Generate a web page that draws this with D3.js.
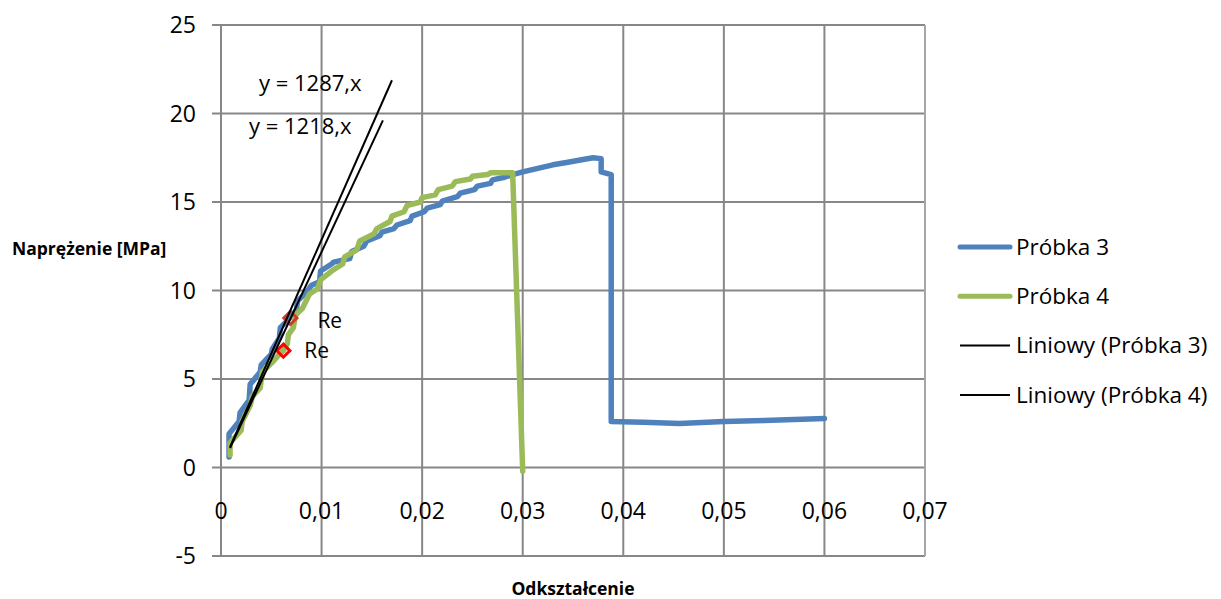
<!DOCTYPE html>
<html>
<head>
<meta charset="utf-8">
<script src="https://cdn.jsdelivr.net/npm/d3@7"></script>
<style>
  html, body { margin: 0; padding: 0; background: #fff; }
  svg { display: block; }
</style>
</head>
<body>
<div id="chart"></div>
<script>
// tick values
const xTicks = [0, 0.01, 0.02, 0.03, 0.04, 0.05, 0.06, 0.07]
const yTicks = [-5, 0, 5, 10, 15, 20, 25]

// Próbka 3: [odkształcenie, naprężenie]
const probka3 = [
  [0.0008, 0.6], [0.0008, 1.9], [0.0018, 2.6], [0.0019, 3.1], [0.0028, 3.8],
  [0.0029, 4.7], [0.0039, 5.4], [0.0040, 5.8], [0.0050, 6.4], [0.0051, 6.7],
  [0.0058, 7.3], [0.0059, 7.9], [0.0066, 8.3], [0.0075, 8.9], [0.0076, 9.4],
  [0.0085, 9.9], [0.0090, 10.3], [0.0098, 10.5], [0.0099, 11.1], [0.0110, 11.5],
  [0.0112, 11.6], [0.0128, 11.8], [0.0130, 12.2], [0.0142, 12.5], [0.0145, 12.8],
  [0.0158, 13.1], [0.0160, 13.3], [0.0172, 13.5], [0.0175, 13.7], [0.0188, 13.95],
  [0.0190, 14.2], [0.0202, 14.45], [0.0205, 14.65], [0.0218, 14.85], [0.0220, 15.05],
  [0.0235, 15.3], [0.0238, 15.5], [0.0252, 15.7], [0.0255, 15.9], [0.0268, 16.05],
  [0.0270, 16.25], [0.0282, 16.4], [0.0290, 16.55], [0.0300, 16.7], [0.0315, 16.9],
  [0.0330, 17.1], [0.0345, 17.25], [0.0360, 17.4], [0.0370, 17.5], [0.0378, 17.45],
  [0.0378, 16.7], [0.0388, 16.55], [0.0388, 2.6], [0.0420, 2.55], [0.0456, 2.49],
  [0.0500, 2.6], [0.0540, 2.65], [0.0600, 2.77]
]

// Próbka 4
const probka4 = [
  [0.0009, 0.7], [0.0009, 1.4], [0.0020, 2.1], [0.0021, 2.6], [0.0029, 3.5],
  [0.0031, 4.0], [0.0039, 4.5], [0.0041, 5.4], [0.0052, 6.0], [0.0058, 6.4],
  [0.0062, 6.6], [0.0066, 7.0], [0.0067, 7.5], [0.0072, 7.9], [0.0074, 8.6],
  [0.0081, 9.0], [0.0088, 9.8], [0.0096, 10.1], [0.0099, 10.6], [0.0110, 11.1],
  [0.0121, 11.5], [0.0123, 11.9], [0.0135, 12.3], [0.0138, 12.8], [0.0152, 13.2],
  [0.0155, 13.5], [0.0168, 13.9], [0.0170, 14.2], [0.0182, 14.45], [0.0185, 14.8],
  [0.0198, 15.0], [0.0200, 15.25], [0.0213, 15.4], [0.0216, 15.7], [0.0230, 15.9],
  [0.0233, 16.15], [0.0248, 16.3], [0.0250, 16.45], [0.0265, 16.55], [0.0268, 16.65],
  [0.0290, 16.65], [0.0300, -0.2]
]

// linear trendlines y = a*x
const trendNames = ['Liniowy (Próbka 3)', 'Liniowy (Próbka 4)']
const trendSlopes = [1287, 1218]
const trendLabels = ['y = 1287,x', 'y = 1218,x']
const trendStart = [0.0009, 0.0009]
const trendEnd = [0.0170, 0.0161]

// Re points
const reX = [0.0069, 0.0062]
const reY = [8.45, 6.6]
const reColors = ['#d03a2c', '#ff0000']

const seriesNames = ['Próbka 3', 'Próbka 4']
const seriesColors = ['#4f81bd', '#9bbb59']

const width = 1221
const height = 599
const plot = { left: 221, right: 925, top: 25, bottom: 556 }
const font = '"Open Sans", "Noto Sans", sans-serif'
const gridColor = '#878787'

const svg = d3.select('#chart')
  .append('svg')
  .attr('width', width)
  .attr('height', height)
  .style('font-family', font)

const x = d3.scaleLinear().domain([0, 0.07]).range([plot.left, plot.right])
const y = d3.scaleLinear().domain([-5, 25]).range([plot.bottom, plot.top])

// grid
svg.append('g')
  .selectAll('line')
  .data(yTicks)
  .join('line')
  .attr('x1', plot.left - 9)
  .attr('x2', plot.right)
  .attr('y1', (d) => y(d))
  .attr('y2', (d) => y(d))
  .attr('stroke', gridColor)
  .attr('stroke-width', 2)

svg.append('g')
  .selectAll('line')
  .data(xTicks)
  .join('line')
  .attr('x1', (d) => x(d))
  .attr('x2', (d) => x(d))
  .attr('y1', plot.top)
  .attr('y2', plot.bottom)
  .attr('stroke', (d) => (d === 0.07 ? '#a6a6a6' : gridColor))
  .attr('stroke-width', 2)

// tick labels
svg.append('g')
  .selectAll('text')
  .data(yTicks)
  .join('text')
  .attr('x', 196)
  .attr('y', (d) => y(d))
  .attr('dy', '0.35em')
  .attr('text-anchor', 'end')
  .attr('font-size', 23)
  .attr('fill', '#000')
  .text((d) => d)

svg.append('g')
  .selectAll('text')
  .data(xTicks)
  .join('text')
  .attr('x', (d) => x(d))
  .attr('y', y(0) + 43)
  .attr('dy', '0.35em')
  .attr('text-anchor', 'middle')
  .attr('font-size', 23)
  .attr('fill', '#000')
  .text((d) => String(d).replace('.', ','))

// axis titles
svg.append('text')
  .attr('x', 12)
  .attr('y', 249)
  .attr('dy', '0.35em')
  .attr('font-size', 17.5)
  .attr('font-weight', 'bold')
  .text('Naprężenie [MPa]')

svg.append('text')
  .attr('x', 573)
  .attr('y', 589)
  .attr('dy', '0.35em')
  .attr('text-anchor', 'middle')
  .attr('font-size', 17.5)
  .attr('font-weight', 'bold')
  .text('Odkształcenie')

// series
const line = d3.line()
  .x((d) => x(d[0]))
  .y((d) => y(d[1]))

;[probka3, probka4].forEach((data, i) => {
  svg.append('path')
    .datum(data)
    .attr('d', line)
    .attr('fill', 'none')
    .attr('stroke', seriesColors[i])
    .attr('stroke-width', 5.5)
    .attr('stroke-linejoin', 'round')
    .attr('stroke-linecap', 'round')
})

// Re markers
const diamond = d3.symbol().type(d3.symbolDiamond2).size(110)
reX.forEach((rx, i) => {
  svg.append('path')
    .attr('d', diamond)
    .attr('transform', `translate(${x(rx)},${y(reY[i])})`)
    .attr('fill', 'none')
    .attr('stroke', reColors[i])
    .attr('stroke-width', 3)
})

svg.append('text')
  .attr('x', x(reX[0]) + 27)
  .attr('y', y(reY[0]) + 3)
  .attr('dy', '0.35em')
  .attr('font-size', 21)
  .text('Re')

svg.append('text')
  .attr('x', x(reX[1]) + 21)
  .attr('y', y(reY[1]))
  .attr('dy', '0.35em')
  .attr('font-size', 21)
  .text('Re')

// trendlines
trendSlopes.forEach((a, i) => {
  const pts = [[trendStart[i], a * trendStart[i]], [trendEnd[i], a * trendEnd[i]]]
  svg.append('path')
    .datum(pts)
    .attr('d', line)
    .attr('stroke', '#000')
    .attr('stroke-width', 2)
})

svg.append('text')
  .attr('x', 259)
  .attr('y', 83)
  .attr('dy', '0.35em')
  .attr('font-size', 22)
  .text(trendLabels[0])

svg.append('text')
  .attr('x', 249)
  .attr('y', 126)
  .attr('dy', '0.35em')
  .attr('font-size', 22)
  .text(trendLabels[1])

// legend
const legendItems = [
  { name: seriesNames[0], color: seriesColors[0], w: 5 },
  { name: seriesNames[1], color: seriesColors[1], w: 5 },
  { name: trendNames[0], color: '#000', w: 2 },
  { name: trendNames[1], color: '#000', w: 2 }
]

const legend = svg.append('g')
legendItems.forEach((item, i) => {
  const ly = 247 + i * 49.3
  legend.append('line')
    .attr('x1', 960)
    .attr('x2', 1010)
    .attr('y1', ly)
    .attr('y2', ly)
    .attr('stroke', item.color)
    .attr('stroke-width', item.w)
    .attr('stroke-linecap', item.w > 2 ? 'round' : 'butt')
  legend.append('text')
    .attr('x', 1016)
    .attr('y', ly)
    .attr('dy', '0.35em')
    .attr('font-size', 22.5)
    .text(item.name)
})
</script>
</body>
</html>
